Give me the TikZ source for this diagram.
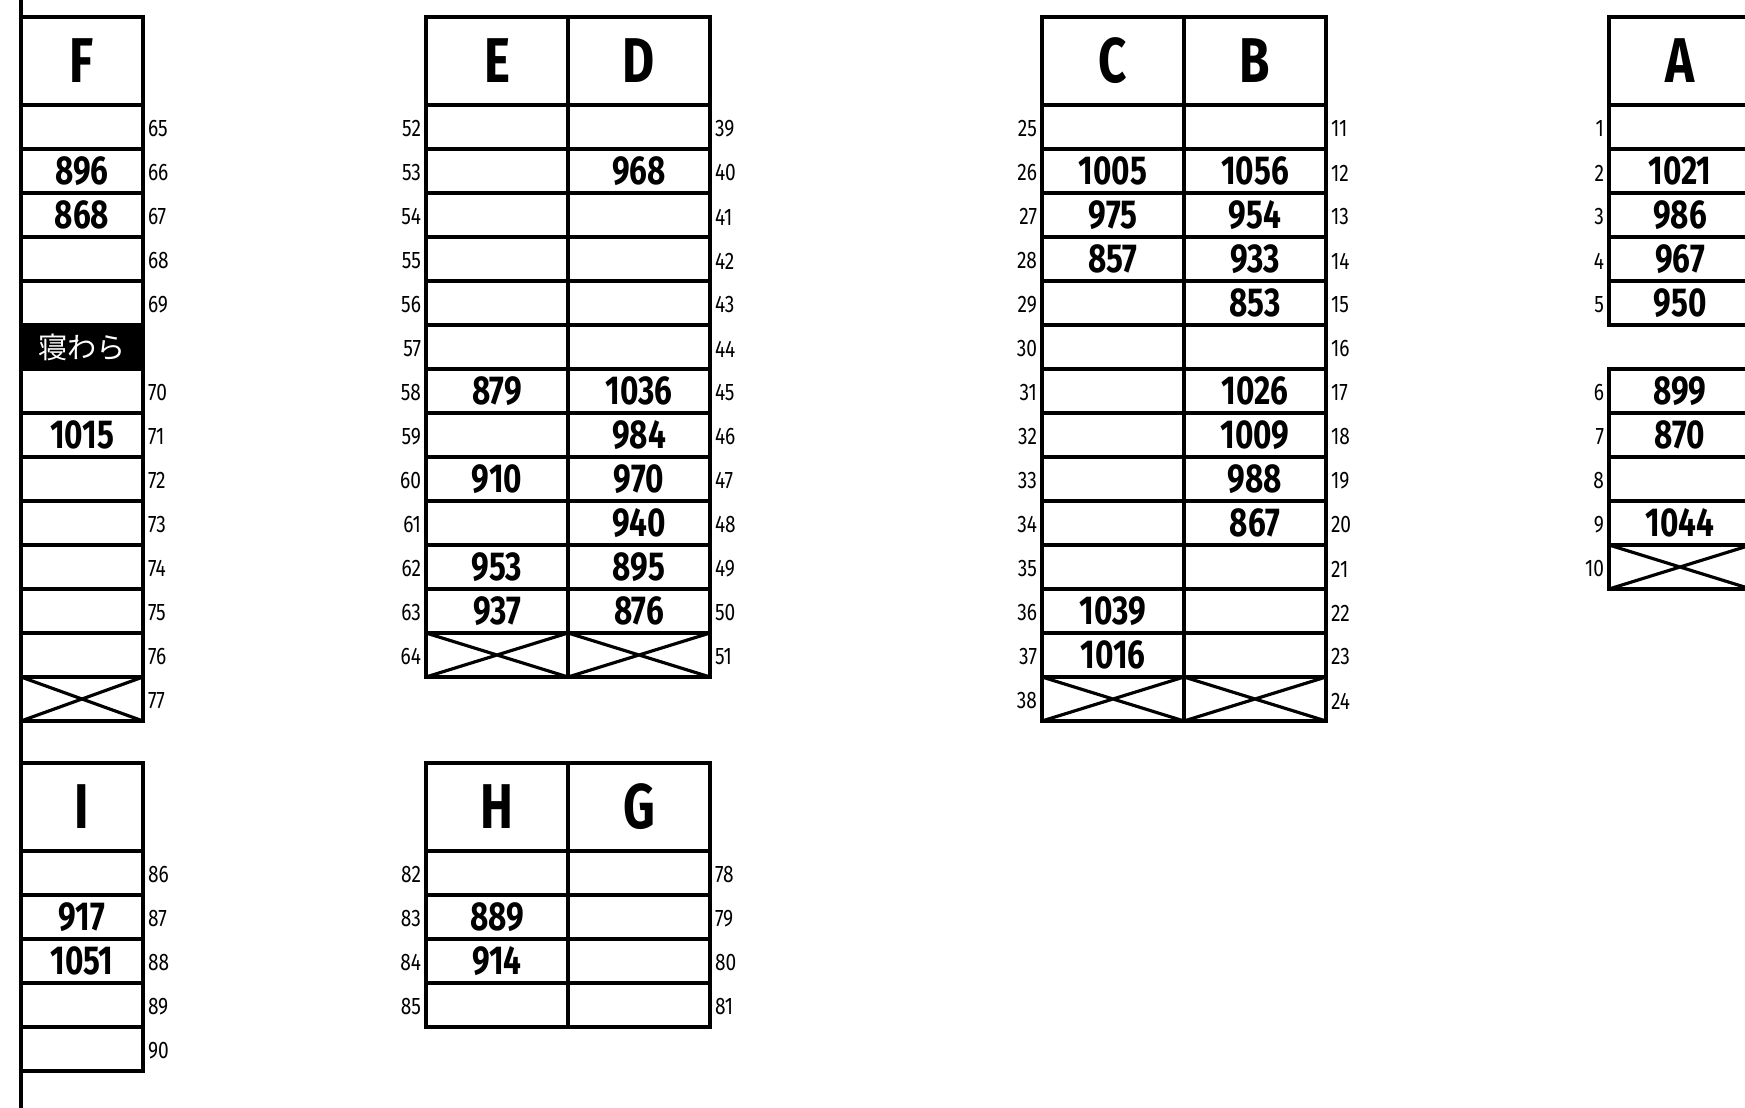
\documentclass[tikz,border=0pt]{standalone}
\usepackage{fontspec}
\newfontfamily\condfont{Fira Sans}[FakeStretch=0.78]
\newfontfamily\labfont{Fira Sans}[FakeStretch=0.8]
\newfontfamily\jpfont{Noto Sans CJK JP}

\begin{document}
\begin{tikzpicture}[
    x=0.1mm, y=-0.1mm,
    every node/.style = {inner sep=0pt, outer sep=0pt},
    cell/.style       = {draw, line width=1pt, anchor=north west,
                         minimum width=14.2mm, minimum height=4.4mm,
                         font=\condfont\bfseries\fontsize{11.5}{11}\selectfont},
    narrow/.style     = {cell, minimum width=12.2mm},
    head/.style       = {minimum height=8.8mm,
                         font=\condfont\bfseries\fontsize{18}{18}\selectfont},
    crossed/.style    = {path picture={\draw[line width=0.9pt]
                           (path picture bounding box.north west) -- (path picture bounding box.south east)
                           (path picture bounding box.south west) -- (path picture bounding box.north east);}},
    rnum/.style       = {anchor=west, font=\labfont\fontsize{6.8}{6}\selectfont},
    lnum/.style       = {anchor=east, font=\labfont\fontsize{6.8}{6}\selectfont}
    ]
      \useasboundingbox (0,0) rectangle (1745,1108);

      % left border ----------------------------------------------
      \coordinate (top) at (21,0);
      \coordinate (bot) at (21,1108);
      \draw[line width=0.9pt] (top) -- (bot);

      % F --------------------------------------------------------
      \node[narrow,head] (Fh) at (21,17) {F};
      \foreach \n/\v [count=\i from 0] in {65/{},66/896,67/868,68/{},69/{}}
      {
        \node[narrow] (F\n) at (21,{105+44*\i}) {\v};
        \node[rnum] (nF\n) at (148,{129+44*\i}) {\n};
      }
      \node[narrow, fill=black, text=white,
            font=\jpfont\fontsize{8.3}{8}\selectfont] (Fbed) at (21,325) {寝わら};
      \foreach \n/\v [count=\i from 6] in {70/{},71/1015,72/{},73/{},74/{},75/{},76/{}}
      {
        \node[narrow] (F\n) at (21,{105+44*\i}) {\v};
        \node[rnum] (nF\n) at (148,{129+44*\i}) {\n};
      }
      \node[narrow,crossed] (F77) at (21,677) {};
      \node[rnum] (nF77) at (148,701) {77};

      % E / D ----------------------------------------------------
      \node[cell,head] (Eh) at (426,17) {E};
      \node[cell,head] (Dh) at (568,17) {D};
      \foreach \l/\r/\e/\d [count=\i from 0] in {52/39/{}/{},53/40/{}/968,54/41/{}/{},
          55/42/{}/{},56/43/{}/{},57/44/{}/{},58/45/879/1036,59/46/{}/984,
          60/47/910/970,61/48/{}/940,62/49/953/895,63/50/937/876}
      {
        \node[cell] (E\l) at (426,{105+44*\i}) {\e};
        \node[cell] (D\r) at (568,{105+44*\i}) {\d};
        \node[lnum] (nE\l) at (421,{129+44*\i}) {\l};
        \node[rnum] (nD\r) at (715,{129+44*\i}) {\r};
      }
      \node[cell,crossed] (E64) at (426,633) {};
      \node[cell,crossed] (D51) at (568,633) {};
      \node[lnum] (nE64) at (421,657) {64};
      \node[rnum] (nD51) at (715,657) {51};

      % C / B ----------------------------------------------------
      \node[cell,head] (Ch) at (1042,17) {C};
      \node[cell,head] (Bh) at (1184,17) {B};
      \foreach \l/\r/\c/\b [count=\i from 0] in {25/11/{}/{},26/12/1005/1056,27/13/975/954,
          28/14/857/933,29/15/{}/853,30/16/{}/{},31/17/{}/1026,32/18/{}/1009,
          33/19/{}/988,34/20/{}/867,35/21/{}/{},36/22/1039/{},37/23/1016/{}}
      {
        \node[cell] (C\l) at (1042,{105+44*\i}) {\c};
        \node[cell] (B\r) at (1184,{105+44*\i}) {\b};
        \node[lnum] (nC\l) at (1037,{129+44*\i}) {\l};
        \node[rnum] (nB\r) at (1331,{129+44*\i}) {\r};
      }
      \node[cell,crossed] (C38) at (1042,677) {};
      \node[cell,crossed] (B24) at (1184,677) {};
      \node[lnum] (nC38) at (1037,701) {38};
      \node[rnum] (nB24) at (1331,701) {24};

      % A --------------------------------------------------------
      \node[cell,head] (Ah) at (1609,17) {A};
      \foreach \n/\v [count=\i from 0] in {1/{},2/1021,3/986,4/967,5/950,,6/899,7/870,8/{},9/1044}
      {
        \ifx\n\empty\else
          \node[cell] (A\n) at (1609,{105+44*\i}) {\v};
          \node[lnum] (nA\n) at (1604,{129+44*\i}) {\n};
        \fi
      }
      \node[cell,crossed] (A10) at (1609,545) {};
      \node[lnum] (nA10) at (1604,569) {10};

      % I --------------------------------------------------------
      \node[narrow,head] (Ih) at (21,763) {I};
      \foreach \n/\v [count=\i from 0] in {86/{},87/917,88/1051,89/{},90/{}}
      {
        \node[narrow] (I\n) at (21,{851+44*\i}) {\v};
        \node[rnum] (nI\n) at (148,{875+44*\i}) {\n};
      }

      % H / G ----------------------------------------------------
      \node[cell,head] (Hh) at (426,763) {H};
      \node[cell,head] (Gh) at (568,763) {G};
      \foreach \l/\r/\h [count=\i from 0] in {82/78/{},83/79/889,84/80/914,85/81/{}}
      {
        \node[cell] (H\l) at (426,{851+44*\i}) {\h};
        \node[cell] (G\r) at (568,{851+44*\i}) {};
        \node[lnum] (nH\l) at (421,{875+44*\i}) {\l};
        \node[rnum] (nG\r) at (715,{875+44*\i}) {\r};
      }
\end{tikzpicture}
\end{document}
